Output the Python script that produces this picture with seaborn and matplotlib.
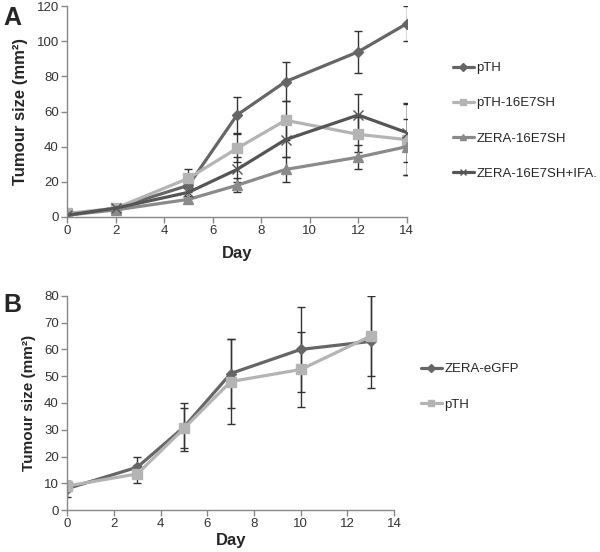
import matplotlib

matplotlib.use("Agg")
import matplotlib.pyplot as plt
import numpy as np
import pandas as pd
import seaborn as sns

# Panel A: tumour growth, four groups
days_a = [0, 2, 5, 7, 9, 12, 14]
groups_a = ["pTH", "pTH-16E7SH", "ZERA-16E7SH", "ZERA-16E7SH+IFA."]
pth_a = [1, 5, 18, 58, 77, 94, 110]
pth_a_err = [1, 1, 4, 10, 11, 12, 10]
pth16_a = [2, 5, 22, 39, 55, 47, 44]
pth16_a_err = [1, 1, 5, 8, 11, 10, 20]
zera16_a = [1, 4, 10, 18, 27, 34, 40]
zera16_a_err = [1, 1, 2, 4, 7, 7, 16]
ifa_a = [1, 5, 14, 27, 44, 58, 48]
ifa_a_err = [1, 1, 3, 7, 10, 12, 17]

# Panel B: two groups
days_b = [0, 3, 5, 7, 10, 13]
groups_b = ["ZERA-eGFP", "pTH"]
zera_b = [8, 16, 31, 51, 60, 63]
zera_b_err = [3, 4, 9, 13, 16, 17.5]
pth_b = [9, 13.5, 30.5, 48, 52.5, 65]
pth_b_err = [2, 3.5, 7.5, 16, 14, 15]

sns.set_theme(style="white")
plt.rcParams["font.family"] = ["Liberation Sans", "DejaVu Sans"]

fig = plt.figure(figsize=(6, 5.52), dpi=100)
ax_a = fig.add_axes([0.112, 0.607, 0.566, 0.382])
ax_b = fig.add_axes([0.112, 0.076, 0.545, 0.388])


def long_frame(days, groups, values):
    rows = []
    for g, vals in zip(groups, values):
        for d, v in zip(days, vals):
            rows.append({"day": d, "size": v, "group": g})
    return pd.DataFrame(rows)


def style_axis(ax, xlim, ylim, yticks, xpad):
    ax.set_xlim(*xlim)
    ax.set_ylim(*ylim)
    ax.set_xticks(np.arange(0, 15, 2))
    ax.set_yticks(yticks)
    for side in ["top", "right"]:
        ax.spines[side].set_visible(False)
    for side in ["left", "bottom"]:
        ax.spines[side].set_color("#888888")
        ax.spines[side].set_linewidth(1.0)
    ax.tick_params(axis="both", which="both", direction="out", length=4, width=1,
                   color="#888888", labelsize=9.5, labelcolor="#333333", pad=2,
                   left=True, bottom=True)
    ax.set_xlabel("Day", fontsize=12, fontweight="bold", labelpad=xpad)


def draw_panel(ax, df, groups, errs, colors, markers, msizes):
    for g in groups:
        sub = df[df["group"] == g]
        ax.errorbar(sub["day"], sub["size"], yerr=errs[g], fmt="none",
                    ecolor="#333333", elinewidth=1, capsize=3, capthick=1, zorder=1)
        sns.lineplot(data=sub, x="day", y="size", ax=ax, color=colors[g],
                     marker=markers[g], markersize=msizes[g], linewidth=2.3,
                     markeredgecolor=colors[g], markeredgewidth=1.0, label=g, zorder=2)


# Panel A
colors_a = {"pTH": "#666666", "pTH-16E7SH": "#b4b4b4", "ZERA-16E7SH": "#8a8a8a",
            "ZERA-16E7SH+IFA.": "#555555"}
markers_a = {"pTH": "D", "pTH-16E7SH": "s", "ZERA-16E7SH": "^", "ZERA-16E7SH+IFA.": "x"}
msize_a = {"pTH": 5, "pTH-16E7SH": 6.5, "ZERA-16E7SH": 6.5, "ZERA-16E7SH+IFA.": 6.5}
df_a = long_frame(days_a, groups_a, [pth_a, pth16_a, zera16_a, ifa_a])
errs_a = dict(zip(groups_a, [pth_a_err, pth16_a_err, zera16_a_err, ifa_a_err]))
draw_panel(ax_a, df_a, groups_a, errs_a, colors_a, markers_a, msize_a)

style_axis(ax_a, (0, 14), (0, 120), np.arange(0, 121, 20), xpad=6)
ax_a.set_ylabel("Tumour size (mm²)", fontsize=12, fontweight="bold", labelpad=6)
ax_a.legend(loc="center left", bbox_to_anchor=(1.1, 0.455), frameon=False,
            fontsize=9.5, labelspacing=1.75, handlelength=1.6, handletextpad=0.2,
            markerscale=0.75)
fig.text(0.005, 0.955, "A", fontsize=18, fontweight="bold")

# Panel B
colors_b = {"ZERA-eGFP": "#666666", "pTH": "#b4b4b4"}
markers_b = {"ZERA-eGFP": "D", "pTH": "s"}
msize_b = {"ZERA-eGFP": 5, "pTH": 6.5}
df_b = long_frame(days_b, groups_b, [zera_b, pth_b])
errs_b = dict(zip(groups_b, [zera_b_err, pth_b_err]))
draw_panel(ax_b, df_b, groups_b, errs_b, colors_b, markers_b, msize_b)

style_axis(ax_b, (0, 14), (0, 80), np.arange(0, 81, 10), xpad=2)
ax_b.set_ylabel("Tumour size (mm²)", fontsize=11, fontweight="bold", labelpad=6)
ax_b.legend(loc="center left", bbox_to_anchor=(1.045, 0.575), frameon=False,
            fontsize=9.5, labelspacing=1.75, handlelength=1.6, handletextpad=0.2,
            markerscale=0.75)
fig.text(0.005, 0.435, "B", fontsize=18, fontweight="bold")

fig.savefig("out.png", dpi=100)
